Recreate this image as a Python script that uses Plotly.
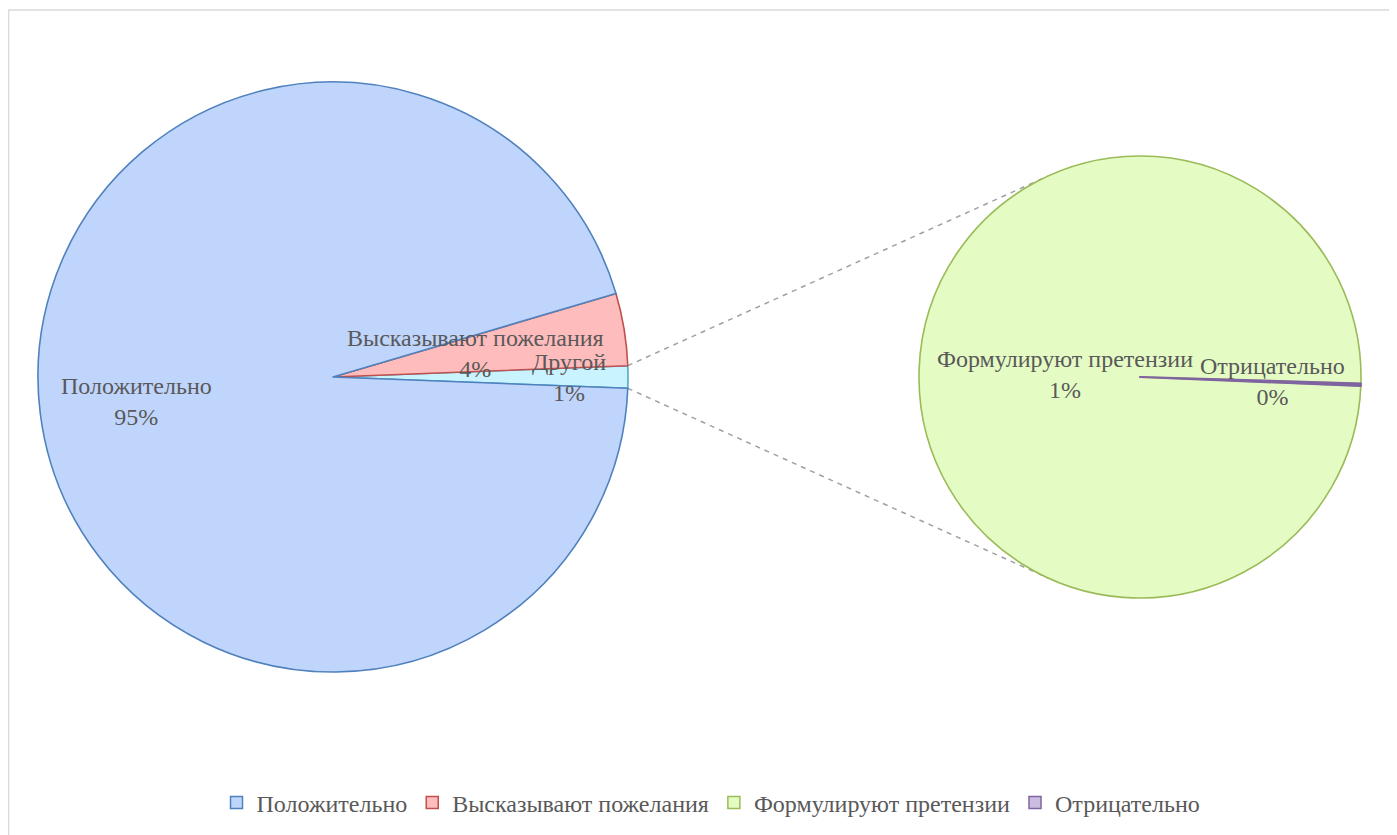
import math
import plotly.graph_objects as go

W, H = 1397, 835          # browser window
OFF = 8                   # default body margin of the page
FW, FH = W - OFF, H - OFF # figure size

# ---- data ----
main_labels = ["Положительно", "Высказывают пожелания", "Другой"]
detail_labels = ["Формулируют претензии", "Отрицательно"]
detail_values = [1.22, 0.002]
main_values = [94.8, 3.95, sum(detail_values)]
legend_labels = ["Положительно", "Высказывают пожелания", "Формулируют претензии", "Отрицательно"]

# ---- styles ----
FONT = "Liberation Serif, Times New Roman, serif"
TXT = "#595959"
FS = 24
fills = {"Положительно": "#c0d5fc", "Высказывают пожелания": "#ffbcbc", "Другой": "#c8f3ff",
         "Формулируют претензии": "#e4fcc4", "Отрицательно": "#8064a2"}
edges = {"Положительно": "#4f81bd", "Высказывают пожелания": "#c0504d", "Другой": "#4bacc6",
         "Формулируют претензии": "#9bbb59", "Отрицательно": "#8064a2"}
edge_w = {"Формулируют претензии": 1.6, "Отрицательно": 2.2}
legend_fills = dict(fills, **{"Отрицательно": "#cbbde0"})

# geometry (page pixels)
C1, R1 = (333, 377), 295
C2, R2 = (1140, 377), 221


def px(x):
    return (x - OFF) / FW


def py(y):
    return 1 - (y - OFF) / FH


total = sum(main_values)
other_ang = main_values[2] / total * 360
red_ang = main_values[1] / total * 360
blue_ang = main_values[0] / total * 360
half = other_ang / 2

fig = go.Figure()

# main pie: counterclockwise from just below 3 o'clock: Другой, Высказывают, Положительно
# (plotly: with counterclockwise direction the first slice ends at `rotation`)
ml = main_labels[::-1]
mv = main_values[::-1]
fig.add_trace(go.Pie(
    labels=ml, values=mv, sort=False, direction="counterclockwise",
    rotation=90 - half, textinfo="none", showlegend=False, hoverinfo="label+percent",
    marker=dict(colors=[fills[l] for l in ml], line=dict(color=[edges[l] for l in ml], width=1.6)),
    domain=dict(x=[px(C1[0] - R1), px(C1[0] + R1)], y=[py(C1[1] + R1), py(C1[1] - R1)]),
))

# secondary pie (clockwise: Формулируют претензии, then Отрицательно drawn on top)
start2 = -2.0  # math angle of the Отрицательно slice
dsum = sum(detail_values)
purple_ang = detail_values[1] / dsum * 360
green_ang = detail_values[0] / dsum * 360
fig.add_trace(go.Pie(
    labels=detail_labels, values=detail_values, sort=False, direction="clockwise",
    rotation=(90 - start2) + purple_ang / 2 - 360, textinfo="none", showlegend=False,
    hoverinfo="label+value",
    marker=dict(colors=[fills[l] for l in detail_labels],
                line=dict(color=[edges[l] for l in detail_labels], width=[edge_w[l] for l in detail_labels])),
    domain=dict(x=[px(C2[0] - R2), px(C2[0] + R2)], y=[py(C2[1] + R2), py(C2[1] - R2)]),
))

# legend entries
for lab in legend_labels:
    fig.add_trace(go.Scatter(
        x=[None], y=[None], mode="markers", name=lab, showlegend=True,
        marker=dict(symbol="square", size=12, color=legend_fills[lab], line=dict(color=edges[lab], width=1.5)),
    ))


def pct(v):
    return f"{round(v / total * 100):d}%"


def place(center, r, ang_deg, frac, text):
    a = math.radians(ang_deg)
    x = center[0] + r * frac * math.cos(a)
    y = center[1] - r * frac * math.sin(a)
    fig.add_annotation(x=px(x), y=py(y), xref="paper", yref="paper", text=text, showarrow=False,
                       xanchor="center", yanchor="middle",
                       font=dict(family=FONT, size=FS, color=TXT), align="center")


place(C1, R1, half + red_ang + blue_ang / 2, 0.67, f"{main_labels[0]}<br>{pct(main_values[0])}")
place(C1, R1, half + red_ang / 2, 0.49, f"{main_labels[1]}<br>{pct(main_values[1])}")
place(C1, R1, 0, 0.80, f"{main_labels[2]}<br>{pct(main_values[2])}")
place(C2, R2, start2 + 180, 0.34, f"{detail_labels[0]}<br>{pct(detail_values[0])}")
place(C2, R2, start2, 0.60, f"{detail_labels[1]}<br>{pct(detail_values[1])}")


# series connector lines: from the edges of the "Другой" slice, tangent to the secondary pie
def on_circle(center, r, ang_deg):
    a = math.radians(ang_deg)
    return center[0] + r * math.cos(a), center[1] - r * math.sin(a)


def tangent_point(p, center, r, side):
    vx, vy = p[0] - center[0], -(p[1] - center[1])  # math coords
    d = math.hypot(vx, vy)
    phi = math.degrees(math.atan2(vy, vx))
    return on_circle(center, r, phi + side * math.degrees(math.acos(r / d)))


for a1, side in [(half, -1), (-half, 1)]:
    p0 = on_circle(C1, R1, a1)
    p1 = tangent_point(p0, C2, R2, side)
    fig.add_shape(type="line", xref="paper", yref="paper", x0=px(p0[0]), y0=py(p0[1]),
                  x1=px(p1[0]), y1=py(p1[1]),
                  line=dict(color="#a0a0a0", width=1.5, dash="5px,5px"), layer="below")

# chart border
fig.add_shape(type="rect", xref="paper", yref="paper", x0=0.0005, y0=py(10), x1=1.02, y1=-0.02,
              line=dict(color="#d9d9d9", width=1.3), layer="below")

fig.update_layout(
    width=FW, height=FH, margin=dict(l=0, r=0, t=0, b=0),
    paper_bgcolor="white", plot_bgcolor="rgba(0,0,0,0)",
    xaxis=dict(visible=False), yaxis=dict(visible=False),
    legend=dict(orientation="h", x=px(711), xanchor="center", y=py(803), yanchor="middle",
                font=dict(family=FONT, size=FS, color=TXT), itemwidth=30, tracegroupgap=0,
                bgcolor="rgba(0,0,0,0)"),
    font=dict(family=FONT, color=TXT),
)

fig.write_html("out.html")
